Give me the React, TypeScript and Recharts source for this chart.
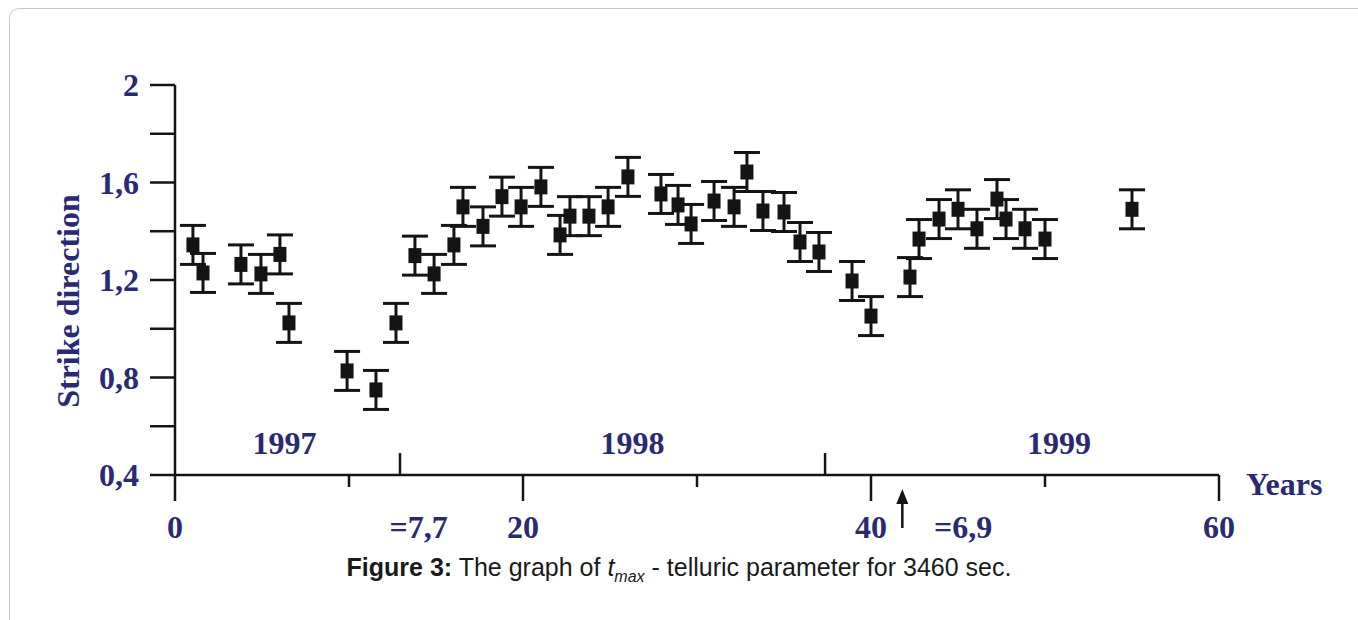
import React from "react";
import { ScatterChart, Scatter, XAxis, YAxis, ErrorBar, ReferenceLine } from "recharts";

// Measurements: time index (x) and strike direction (y), with error
const xValues = [1.03, 1.61, 3.79, 4.94, 6.03, 6.55, 9.89, 11.55, 12.7, 13.79, 14.89, 16.03, 16.55, 17.7, 18.79, 19.89, 21.03, 22.13, 22.7, 23.79, 24.89, 26.03, 27.93, 28.91, 29.66, 30.98, 32.13, 32.87, 33.79, 35.0, 35.92, 37.01, 38.91, 40.0, 42.24, 42.76, 43.91, 45.0, 46.09, 47.24, 47.76, 48.85, 50.0, 55.0];
const yValues = [1.344, 1.229, 1.264, 1.225, 1.305, 1.024, 0.827, 0.749, 1.024, 1.3, 1.225, 1.344, 1.5, 1.42, 1.542, 1.5, 1.582, 1.385, 1.462, 1.462, 1.5, 1.623, 1.553, 1.508, 1.43, 1.524, 1.5, 1.643, 1.483, 1.479, 1.356, 1.315, 1.196, 1.052, 1.212, 1.368, 1.45, 1.49, 1.41, 1.532, 1.45, 1.41, 1.368, 1.49];
const errValues = xValues.map(() => 0.08);

const xTicks = [0, 10, 20, 30, 40, 50, 60];
const xLabelled = [0, 20, 40, 60];
const yTicks = [0.4, 0.6, 0.8, 1.0, 1.2, 1.4, 1.6, 1.8, 2.0];
const yLabelled = [0.4, 0.8, 1.2, 1.6, 2.0];

const yearNames = ["1997", "1998", "1999"];
const yearX = [6.3, 26.3, 50.8];
const yearY = [0.53, 0.53, 0.53];
const yearBreaks = [12.93, 37.36];

const noteLabels = ["=7,7", "=6,9"];
const noteX = [14.0, 45.3];
const arrowX = [41.8];

const points = xValues.map((x, i) => ({ x, y: yValues[i], err: errValues[i] }));
const yearData = yearNames.map((label, i) => ({ x: yearX[i], y: yearY[i], label }));
const noteData = noteLabels.map((label, i) => ({ x: noteX[i], y: 0.4, label }));
const arrowData = arrowX.map((x) => ({ x, y: 0.4 }));

const NAVY = "#2a2a74";
const INK = "#141414";
const SERIF = "'Liberation Serif', 'Times New Roman', serif";
const FS = 32;

const fmt = (v: number) => (Number.isInteger(v) ? String(v) : String(+v.toFixed(1))).replace(".", ",");

const XTick = (props: any) => {
  const { x, y, payload } = props;
  const v = payload.value;
  const major = xLabelled.includes(v);
  return (
    <g>
      <line x1={x} x2={x} y1={y} y2={y + (major ? 26 : 12)} stroke={INK} strokeWidth={2.5} />
      {major && (
        <text x={x} y={y + 63} textAnchor="middle" fill={NAVY} fontFamily={SERIF} fontWeight="bold" fontSize={FS}>
          {v}
        </text>
      )}
    </g>
  );
};

const YTick = (props: any) => {
  const { x, y, payload } = props;
  const v = payload.value;
  const lab = yLabelled.some((t) => Math.abs(t - v) < 1e-6);
  return (
    <g>
      <line x1={x - 25} x2={x} y1={y} y2={y} stroke={INK} strokeWidth={2.5} />
      {lab && (
        <text x={x - 36} y={y + 11} textAnchor="end" fill={NAVY} fontFamily={SERIF} fontWeight="bold" fontSize={FS}>
          {fmt(v)}
        </text>
      )}
    </g>
  );
};

const SquareMark = (p: any) => (
  <rect x={p.cx - 6.5} y={p.cy - 7.5} width={13} height={15} fill={INK} />
);

const YearText = (p: any) => (
  <text x={p.cx} y={p.cy + 11} textAnchor="middle" fill={NAVY} fontFamily={SERIF} fontWeight="bold" fontSize={FS}>
    {p.payload.label}
  </text>
);

const NoteText = (p: any) => (
  <text x={p.cx} y={p.cy + 63} textAnchor="middle" fill={NAVY} fontFamily={SERIF} fontWeight="bold" fontSize={FS}>
    {p.payload.label}
  </text>
);

const ArrowMark = (p: any) => (
  <g>
    <line x1={p.cx} x2={p.cx} y1={p.cy + 26} y2={p.cy + 53} stroke={INK} strokeWidth={2.5} />
    <path d={`M${p.cx - 6},${p.cy + 29} L${p.cx},${p.cy + 14} L${p.cx + 6},${p.cy + 29} Z`} fill={INK} />
  </g>
);

export default function App() {
  return (
    <div style={{ position: "fixed", left: 0, top: 0, width: 1358, height: 620, overflow: "hidden", background: "#fff" }}>
      <div
        style={{
          position: "absolute",
          left: 9,
          top: 8,
          width: 1400,
          height: 700,
          border: "1px solid #c8c8c8",
          borderRadius: 10,
        }}
      />
      <div style={{ position: "absolute", left: 0, top: 0 }}>
        <ScatterChart width={1358} height={620} margin={{ top: 85, right: 139, bottom: 0, left: 0 }}>
          <XAxis
            type="number"
            dataKey="x"
            domain={[0, 60]}
            ticks={xTicks}
            interval={0}
            height={145}
            tickSize={0}
            tickMargin={0}
            tickLine={false}
            axisLine={{ stroke: INK, strokeWidth: 2.5 }}
            tick={<XTick />}
            label={{
              content: (lp: any) => {
                const vb = lp.viewBox;
                return (
                  <text x={vb.x + vb.width + 27} y={vb.y + 20} fill={NAVY} fontFamily={SERIF} fontWeight="bold" fontSize={FS}>
                    Years
                  </text>
                );
              },
            }}
          />
          <YAxis
            type="number"
            dataKey="y"
            domain={[0.4, 2]}
            ticks={yTicks}
            interval={0}
            width={175}
            tickSize={0}
            tickMargin={0}
            tickLine={false}
            axisLine={{ stroke: INK, strokeWidth: 2.5 }}
            tick={<YTick />}
            label={{
              content: (lp: any) => {
                const vb = lp.viewBox;
                const cx = vb.x + 68;
                const cy = vb.y + vb.height / 2 + 21;
                return (
                  <text
                    x={cx}
                    y={cy}
                    transform={`rotate(-90, ${cx}, ${cy})`}
                    textAnchor="middle"
                    dominantBaseline="central"
                    fill={NAVY}
                    fontFamily={SERIF}
                    fontWeight="bold"
                    fontSize={FS}
                  >
                    Strike direction
                  </text>
                );
              },
            }}
          />
          {yearBreaks.map((bx) => (
            <ReferenceLine
              key={bx}
              segment={[
                { x: bx, y: 0.4 },
                { x: bx, y: 0.49 },
              ]}
              stroke={INK}
              strokeWidth={2.5}
              ifOverflow="visible"
            />
          ))}
          <Scatter data={yearData} dataKey="y" shape={<YearText />} isAnimationActive={false} />
          <Scatter data={noteData} dataKey="y" shape={<NoteText />} isAnimationActive={false} />
          <Scatter data={arrowData} dataKey="y" shape={<ArrowMark />} isAnimationActive={false} />
          <Scatter data={points} dataKey="y" shape={<SquareMark />} isAnimationActive={false}>
            <ErrorBar dataKey="err" direction="y" width={13} strokeWidth={3} stroke={INK} isAnimationActive={false} />
          </Scatter>
        </ScatterChart>
      </div>
      <div
        style={{
          position: "absolute",
          left: 0,
          top: 552,
          width: 1358,
          textAlign: "center",
          fontFamily: "'Liberation Sans', Arial, sans-serif",
          fontSize: 25,
          lineHeight: "30px",
          color: "#1a1a1a",
        }}
      >
        <b>Figure 3:</b> The graph of <i>t</i>
        <sub style={{ fontSize: 16, lineHeight: 0 }}>
          <i>max</i>
        </sub>{" "}
        - telluric parameter for 3460 sec.
      </div>
    </div>
  );
}
